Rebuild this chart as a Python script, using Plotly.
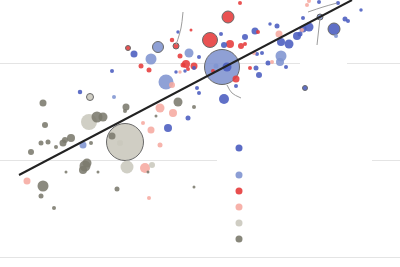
import plotly.graph_objects as go

# ---- data (x = horizontal value, y = vertical value) ----
categories = ["High income", "Upper-middle income", "Lower-middle income",
              "Low income", "Fragile (large)", "Fragile (small)"]
colors = ["#4a5cbf", "#8094d0", "#e63b3b", "#f6aaa1", "#cac8bd", "#7b7a6d"]

db_x = [134, 112, 80, 178, 199, 185, 176, 197, 199, 194, 188, 168, 221, 224, 245, 255, 270, 277, 281,
        289, 297, 262, 257, 268, 256, 259, 227, 236, 224, 305, 303, 309, 300, 303, 319, 338, 345, 348,
        361, 334, 286]
db_y = [213, 196, 175, 235, 210, 196, 195, 179, 174, 199, 149, 139, 233, 222, 230, 236, 243, 241, 225,
        223, 231, 214, 213, 204, 199, 192, 200, 181, 168, 179, 238, 240, 233, 249, 265, 264, 248, 246,
        257, 238, 200]
db_s = [6, 3, 3.5, 2.5, 3, 2.5, 2.5, 3, 3, 3, 4, 7, 3, 5, 5, 6, 2.5, 4, 7,
        8, 7, 3, 3, 4, 4, 5, 8, 3, 9, 4, 6, 8, 4, 3, 3, 3, 4, 3,
        2.5, 11, 3]
db_hl = [29, 39]

lb_x = [158, 151, 189, 166, 114, 83, 222, 281, 280, 216, 320, 336]
lb_y = [220, 208, 214, 185, 170, 122, 200, 211, 205, 201, 250, 231]
lb_s = [10, 10, 8, 14, 3, 6, 34, 10, 7, 4, 5, 3]
lb_hl = [0, 6, 10]

r_x = [128, 176, 172, 191, 180, 186, 194, 183, 141, 149, 240, 228, 210, 230, 241, 245, 258, 250, 213,
       236, 188]
r_y = [219, 221, 227, 237, 211, 203, 201, 202, 201, 197, 264, 250, 227, 223, 221, 223, 235, 199, 196,
       188, 198]
r_s = [4, 5, 3.5, 2, 4, 7, 6, 4, 4, 4, 3, 11, 14, 7, 5, 3, 3, 3, 3,
       6, 3]
r_hl = [0, 1, 11, 12]

p_x = [180, 172, 160, 173, 143, 151, 160, 145, 149, 27, 279, 272, 254, 302, 307, 309]
p_y = [195, 182, 159, 154, 144, 137, 122, 99, 69, 86, 233, 205, 214, 237, 262, 266]
p_s = [2.5, 5, 8, 7, 3, 6, 4, 9, 3, 6, 6, 3, 3, 3, 3, 3]
p_hl = []

lg_x = [90, 89, 125, 120, 127, 152]
lg_y = [170, 145, 125, 124, 100, 102]
lg_s = [6, 15, 36, 5, 12, 5]
lg_hl = [0, 2]

dg_x = [43, 45, 126, 125, 97, 103, 178, 194, 156, 71, 63, 65, 41, 48, 56, 91, 31, 43, 41, 54, 66,
        85, 87, 83, 98, 112, 148, 117, 194]
dg_y = [164, 142, 160, 156, 150, 150, 165, 160, 151, 129, 124, 127, 124, 125, 120, 124, 115, 81, 71,
        59, 95, 101, 104, 97, 95, 131, 95, 78, 80]
dg_s = [6, 5, 6, 3, 10, 8, 8, 3, 2, 7, 6, 5, 4, 4, 3, 3, 5, 10, 4, 3, 2,
        10, 8, 7, 2, 6, 2, 4, 2]
dg_hl = []

trend_x = [19, 352]
trend_y = [92, 267]

leader_lines = [
    ([183, 181, 176], [255, 239, 222]),
    ([227, 232, 241], [182, 174, 169]),
    ([317, 320], [222, 249]),
    ([308, 323, 337], [255, 260, 264]),
]

grid_vals = [10, 107, 204]

# ---- build ----
series = [(db_x, db_y, db_s, db_hl), (lb_x, lb_y, lb_s, lb_hl), (r_x, r_y, r_s, r_hl),
          (p_x, p_y, p_s, p_hl), (lg_x, lg_y, lg_s, lg_hl), (dg_x, dg_y, dg_s, dg_hl)]

SIZE_PAD = 1  # rendering pad so small dots match the antialiased look

pts = []
for ci, (xs, ys, ss, hl) in enumerate(series):
    for i, (x, y, s) in enumerate(zip(xs, ys, ss)):
        pts.append((s, x, y, ci, i in hl))
pts.sort(key=lambda t: -t[0])

fig = go.Figure()

# legend background and label background boxes (above gridlines, below marks)
fig.add_shape(type="rect", x0=217, x1=372, y0=17, y1=130, layer="between",
              fillcolor="white", line_width=0)
fig.add_shape(type="rect", x0=300, x1=347, y0=197, y1=211, layer="between",
              fillcolor="white", line_width=0)

fig.add_trace(go.Scatter(
    x=[p[1] for p in pts], y=[p[2] for p in pts], mode="markers",
    text=[categories[p[3]] for p in pts], hoverinfo="text",
    marker=dict(size=[p[0] + SIZE_PAD for p in pts], sizemode="diameter",
                color=[colors[p[3]] for p in pts], opacity=0.88,
                line=dict(width=[1 if p[4] else 0 for p in pts], color="#555555")),
    showlegend=False))

for lx, ly in leader_lines:
    fig.add_trace(go.Scatter(x=lx, y=ly, mode="lines", line=dict(color="#9c9c9c", width=1, shape="spline"),
                             hoverinfo="skip", showlegend=False))

fig.add_trace(go.Scatter(x=trend_x, y=trend_y, mode="lines", line=dict(color="#222222", width=2),
                         hoverinfo="skip", showlegend=False))

# legend entries (markers with labels)
leg_y = [119, 92, 76, 60, 44, 28]
fig.add_trace(go.Scatter(
    x=[239] * 6, y=leg_y, mode="markers+text", text=categories, textposition="middle right",
    textfont=dict(color="white", size=10, family="Open Sans"),
    marker=dict(size=7, color=colors, opacity=0.9), hoverinfo="text", showlegend=False))

fig.update_layout(
    width=400, height=267, margin=dict(l=0, r=0, t=0, b=0),
    paper_bgcolor="white", plot_bgcolor="white",
    xaxis=dict(range=[0, 400], visible=False),
    yaxis=dict(range=[0, 267], tickvals=grid_vals, showgrid=True, gridcolor="#e4e4e4", gridwidth=1,
               showticklabels=False, zeroline=False, showline=False, ticks=""),
    showlegend=False,
)

fig.write_html("out.html")
